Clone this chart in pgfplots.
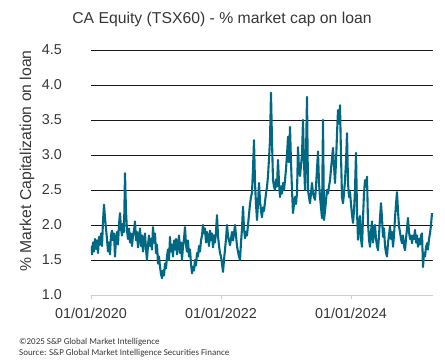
\documentclass[border=0pt]{standalone}
\usepackage{fontspec}
\setmainfont{Liberation Sans}
\newfontfamily\footfont{Carlito}
\usepackage{pgfplots}
\pgfplotsset{compat=1.18}
\usepackage{pgfplotstable}
\definecolor{teal1}{RGB}{0,104,130}
\definecolor{txt}{RGB}{55,55,55}
\pgfplotstableread{
v
1.70
1.58
1.75
1.62
1.80
1.66
1.78
1.60
1.83
1.72
1.88
1.70
2.05
2.29
2.10
1.95
1.80
1.62
1.75
1.58
1.85
1.92
1.78
1.88
1.55
1.80
1.90
1.72
2.00
2.17
1.95
1.85
2.02
1.90
2.74
2.20
1.92
1.80
1.95
1.75
1.88
1.70
1.85
1.92
2.05
1.78
1.90
1.68
1.82
1.95
1.70
1.85
1.62
1.78
1.88
1.65
1.50
1.72
1.85
1.70
1.80
1.65
1.97
1.75
1.88
1.60
1.72
1.45
1.55
1.40
1.30
1.24
1.35
1.28
1.45
1.38
1.55
1.65
1.50
1.83
1.62
1.72
1.55
1.78
1.65
1.80
1.58
1.72
1.85
1.60
1.75
1.50
1.70
1.80
1.97
1.72
1.62
1.78
1.55
1.65
1.45
1.31
1.40
1.35
1.50
1.42
1.60
1.55
1.70
1.62
1.78
1.85
2.00
1.88
1.95
1.75
1.90
1.82
1.70
1.92
1.78
1.88
1.68
1.85
1.75
1.90
2.14
1.85
1.70
1.60
1.55
1.45
1.33
1.50
1.65
1.80
2.00
1.85
1.78
1.71
1.80
1.90
1.78
1.88
2.00
1.85
1.70
1.62
1.55
1.50
1.75
1.95
2.26
1.95
1.81
1.90
1.85
2.00
2.15
2.30
2.40
2.46
2.80
3.21
2.60
2.30
2.07
2.30
2.60
2.35
2.20
2.11
2.25
2.20
2.33
2.45
2.54
2.70
2.95
3.21
3.89
3.20
2.64
2.55
2.50
2.65
2.55
2.93
2.60
2.40
2.55
2.45
2.60
2.50
2.64
2.80
3.00
3.26
2.90
3.40
2.90
2.50
2.17
2.30
2.40
2.30
2.46
3.11
2.80
2.70
2.85
3.00
3.50
2.90
2.50
3.00
3.83
2.50
2.40
2.31
2.45
2.60
2.45
2.40
2.36
2.55
2.80
3.05
2.60
2.40
2.25
2.10
3.50
2.07
2.20
2.35
2.50
2.45
2.55
2.64
2.80
2.95
3.10
2.85
2.60
2.90
3.30
3.64
3.45
3.71
3.00
2.40
2.31
2.45
2.64
2.90
3.31
2.60
2.40
2.47
2.30
2.15
2.03
2.20
2.50
3.03
2.20
1.79
1.95
2.13
1.80
1.69
2.10
2.45
2.64
2.55
2.69
2.03
1.79
1.69
1.90
2.05
1.75
1.90
2.00
1.80
1.70
1.64
1.85
2.10
2.31
2.10
1.83
1.95
1.70
1.60
1.55
1.75
1.85
1.98
1.80
1.90
1.69
1.85
2.10
2.30
2.47
2.20
1.98
1.90
1.80
1.74
1.85
1.70
1.64
1.80
1.95
2.10
1.90
1.80
1.85
1.74
1.85
1.80
1.93
1.75
1.85
1.69
1.80
1.72
1.85
1.88
1.40
1.60
1.55
1.68
1.74
1.65
1.80
1.88
2.00
2.17
}\datatab
\begin{document}
\begin{tikzpicture}
\begin{axis}[
  scale only axis, width=342bp, height=245bp,
  xmin=0, xmax=342, ymin=1, ymax=4.5,
  axis x line*=bottom, axis y line*=left,
  x axis line style={draw=gray!40, line width=0.8bp, -},
  y axis line style={draw=none},
  xtick={0,130,260},
  xticklabels={01/01/2020,01/01/2022,01/01/2024},
  ytick={1.5,2,...,4.5},
  extra y ticks={1}, extra y tick labels={1.0},
  extra y tick style={grid=none},
  ymajorgrids,
  major grid style={black!90, line width=0.75bp},
  tick align=outside, major tick length=4bp,
  xtick style={draw=gray!40, line width=0.6bp},
  ytick style={draw=none},
  tick label style={font=\fontsize{14.4}{16}\selectfont, text=txt},
  yticklabel style={/pgf/number format/fixed, /pgf/number format/fixed zerofill, /pgf/number format/precision=1, /pgf/number format/assume math mode=true, anchor=east, inner sep=0pt, xshift=-25bp},
  xticklabel style={anchor=north, inner sep=0pt, yshift=-9bp},
  title={CA Equity (TSX60) - \% market cap on loan},
  title style={at={(axis description cs:0.383,1.10)}, anchor=center, font=\fontsize{15.8}{18}\selectfont, text=txt},
  ylabel={\% Market Capitalization on loan},
  ylabel style={at={(axis description cs:-0.187,0.547)}, anchor=center, font=\fontsize{15.8}{18}\selectfont, text=txt},
]
\addplot[teal1, line width=2.1bp, line join=round] table[x expr=\coordindex, y=v] {\datatab};
\end{axis}
\node[anchor=west, inner sep=0pt, font=\footfont\fontsize{9}{10}\selectfont, text=txt] at (-72bp,-46.7bp) {©2025 S\&P Global Market Intelligence};
\node[anchor=west, inner sep=0pt, font=\footfont\fontsize{9}{10}\selectfont, text=txt] at (-72bp,-57.7bp) {Source: S\&P Global Market Intelligence Securities Finance};
\path[use as bounding box] (-91bp,-65bp) rectangle (354bp,295bp);
\end{tikzpicture}
\end{document}
